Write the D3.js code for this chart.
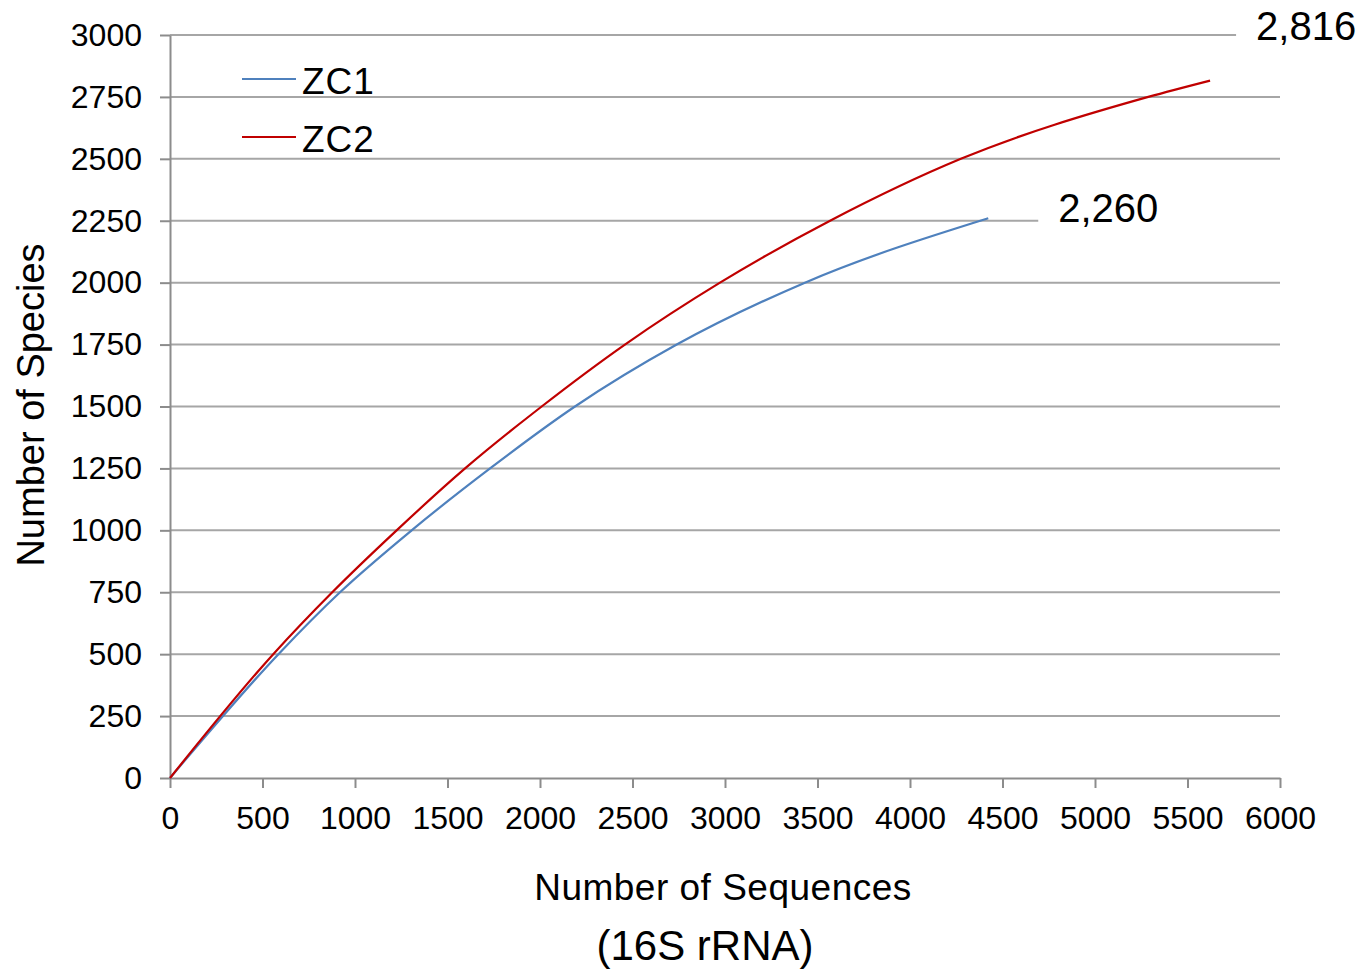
<!DOCTYPE html>
<html>
<head>
<meta charset="utf-8">
<script src="https://cdn.jsdelivr.net/npm/d3@7"></script>
<style>
  body { margin: 0; background: #fff; }
  text { font-family: "Liberation Sans", Arial, sans-serif; fill: #000; }
</style>
</head>
<body>
<div id="plt"></div>
<script>
// rarefaction curves
const zc1Seq  = [0, 586, 919, 1306, 1730, 2189, 2739, 3432, 4423];
const zc1Spec = [0, 500, 750, 1000, 1250, 1500, 1750, 2000, 2260];
const zc2Seq  = [0, 558, 877, 1225, 1595, 2009, 2459, 2973, 3568, 4275, 5288, 5622];
const zc2Spec = [0, 500, 750, 1000, 1250, 1500, 1750, 2000, 2250, 2500, 2750, 2816];

const seriesNames = ["ZC1", "ZC2"];
const seriesColors = ["#4f81bd", "#c00000"];
const endLabels = ["2,260", "2,816"];

const xTicks = d3.range(0, 6001, 500);
const yTicks = d3.range(0, 3001, 250);

const margin = { top: 35, right: 84, bottom: 194, left: 170 };
const W = 1364, H = 972;
const width = W - margin.left - margin.right;   // 1110
const height = H - margin.top - margin.bottom;  // 743

const svg = d3.select("#plt")
    .append("svg")
    .attr("width", W)
    .attr("height", H);

const g = svg.append("g")
    .attr("transform", "translate(" + margin.left + "," + margin.top + ")");

const x = d3.scaleLinear().domain([0, 6000]).range([0, width]);
const y = d3.scaleLinear().domain([0, 3000]).range([height, 0]);

// gridlines
g.append("g")
  .selectAll("line")
  .data(yTicks.filter(d => d > 0))
  .enter()
  .append("line")
  .attr("x1", 0)
  .attr("x2", width)
  .attr("y1", d => y(d))
  .attr("y2", d => y(d))
  .attr("stroke", "#a6a6a6")
  .attr("stroke-width", 2);

// y axis
const yAxis = g.append("g")
  .call(d3.axisLeft(y).tickValues(yTicks).tickFormat(d3.format("d"))
    .tickSize(10).tickPadding(18).tickSizeOuter(0));
yAxis.select(".domain").attr("stroke", "#8c8c8c").attr("stroke-width", 2);
yAxis.selectAll(".tick line").attr("stroke", "#8c8c8c").attr("stroke-width", 2);
yAxis.selectAll(".tick text")
  .attr("font-size", 32)
  .attr("font-family", "Liberation Sans, Arial, sans-serif")
  .attr("fill", "#000");

// x axis
const xAxis = g.append("g")
  .attr("transform", "translate(0," + height + ")")
  .call(d3.axisBottom(x).tickValues(xTicks).tickFormat(d3.format("d"))
    .tickSize(10).tickPadding(18).tickSizeOuter(0));
xAxis.select(".domain").attr("stroke", "#8c8c8c").attr("stroke-width", 2);
xAxis.selectAll(".tick line").attr("stroke", "#8c8c8c").attr("stroke-width", 2);
xAxis.selectAll(".tick text")
  .attr("font-size", 32)
  .attr("font-family", "Liberation Sans, Arial, sans-serif")
  .attr("fill", "#000");

// series
const series = [
  zc1Seq.map((s, i) => ({ seq: s, spec: zc1Spec[i] })),
  zc2Seq.map((s, i) => ({ seq: s, spec: zc2Spec[i] }))
];

const line = d3.line()
  .x(d => x(d.seq))
  .y(d => y(d.spec))
  .curve(d3.curveMonotoneX);

series.forEach((pts, i) => {
  g.append("path")
    .datum(pts)
    .attr("d", line)
    .attr("fill", "none")
    .attr("stroke", seriesColors[i])
    .attr("stroke-width", 2.2);
});

// end labels, white box hides the gridline behind
const labelPos = [
  { dx: 70, dy: -10 },
  { dx: 46, dy: -55 }
];
series.forEach((pts, i) => {
  const last = pts[pts.length - 1];
  const lx = x(last.seq) + labelPos[i].dx;
  const ly = y(last.spec) + labelPos[i].dy;
  const lg = g.append("g");
  const box = lg.append("rect").attr("fill", "#fff");
  const t = lg.append("text")
    .attr("x", lx)
    .attr("y", ly)
    .attr("dy", "0.35em")
    .attr("font-family", "Candara, Corbel, 'Open Sans', sans-serif")
    .attr("font-size", 40)
    .text(endLabels[i]);
  const bb = t.node().getBBox();
  box.attr("x", bb.x - 20).attr("y", bb.y - 4)
    .attr("width", Math.max(bb.width + 40, width - bb.x + 22))
    .attr("height", bb.height + 12);
});

// legend
const legend = g.append("g").attr("transform", "translate(72,44)");
seriesNames.forEach((name, i) => {
  const ly = i * 58;
  legend.append("line")
    .attr("x1", 0).attr("x2", 54)
    .attr("y1", ly).attr("y2", ly)
    .attr("stroke", seriesColors[i])
    .attr("stroke-width", 2.2);
  legend.append("text")
    .attr("x", 60)
    .attr("y", ly + 2)
    .attr("dy", "0.36em")
    .attr("font-size", 37)
    .attr("letter-spacing", "1")
    .text(name);
});

// axis titles
svg.append("text")
  .attr("transform", "translate(44," + (margin.top + 370) + ") rotate(-90)")
  .attr("text-anchor", "middle")
  .attr("font-size", 38)
  .text("Number of Species");

svg.append("text")
  .attr("x", 723)
  .attr("y", 887)
  .attr("dy", "0.35em")
  .attr("text-anchor", "middle")
  .attr("font-size", 37)
  .attr("letter-spacing", "0.5")
  .text("Number of Sequences");

svg.append("text")
  .attr("x", 705)
  .attr("y", 945)
  .attr("dy", "0.35em")
  .attr("text-anchor", "middle")
  .attr("font-family", "Candara, Corbel, 'Open Sans', sans-serif")
  .attr("font-size", 42)
  .text("(16S rRNA)");
</script>
</body>
</html>
